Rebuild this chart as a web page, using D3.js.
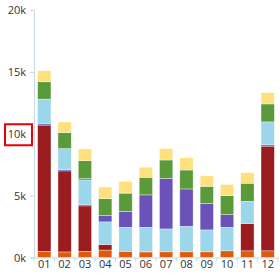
<!DOCTYPE html>
<html>
<head>
<meta charset="utf-8">
<script src="https://cdnjs.cloudflare.com/ajax/libs/d3/7.8.5/d3.min.js"></script>
<style>
body { margin: 0; background: #fff; }
svg { display: block; }
</style>
</head>
<body>
<div id="chart"></div>
<script>
var months = ["01","02","03","04","05","06","07","08","09","10","11","12"];
var orange    = [500, 450, 500, 600, 500, 450, 460, 460, 460, 540, 540, 540];
var darkRed   = [10200, 6550, 3670, 450, 0, 50, 0, 0, 0, 0, 2200, 8460];
var blue      = [100, 100, 100, 0, 0, 0, 0, 0, 0, 0, 0, 100];
var lightBlue = [2000, 1700, 2000, 1830, 1940, 1940, 1850, 2060, 1770, 1900, 1800, 1860];
var purple    = [0, 0, 100, 500, 1290, 2620, 4090, 3020, 2150, 1030, 0, 0];
var green     = [1400, 1300, 1450, 1370, 1470, 1420, 1480, 1530, 1370, 1530, 1460, 1450];
var yellow    = [900, 850, 950, 940, 950, 820, 920, 990, 850, 900, 850, 910];
var yTicks = [0, 5000, 10000, 15000, 20000];

var series = [
  {name: "orange", values: orange, color: "#e05a0c"},
  {name: "darkRed", values: darkRed, color: "#9a1c1f"},
  {name: "blue", values: blue, color: "#3f4cc0"},
  {name: "lightBlue", values: lightBlue, color: "#9bd6ea"},
  {name: "purple", values: purple, color: "#6a52b8"},
  {name: "green", values: green, color: "#5a9a3a"},
  {name: "yellow", values: yellow, color: "#ffe07e"}
];

var w = 280, h = 275;
var svg = d3.select("#chart").append("svg")
    .attr("width", w)
    .attr("height", h);

var x = d3.scaleBand()
    .domain(months)
    .range([34, 278])
    .paddingInner(0.345)
    .paddingOuter(0.18);

var y = d3.scaleLinear()
    .domain([0, 20000])
    .range([257.5, 10]);

// stack the series
var table = months.map(function(m, i) {
  var row = {month: m};
  series.forEach(function(s) { row[s.name] = s.values[i]; });
  return row;
});
var stack = d3.stack().keys(series.map(function(s) { return s.name; }));
var layers = stack(table);

svg.selectAll("g.layer")
   .data(layers)
   .enter()
   .append("g")
   .attr("class", "layer")
   .attr("fill", function(d, i) { return series[i].color; })
   .selectAll("rect")
   .data(function(d) { return d; })
   .enter()
   .append("rect")
   .filter(function(d) { return d[1] - d[0] > 0; })
   .attr("x", function(d) { return x(d.data.month); })
   .attr("y", function(d) { return y(d[1]); })
   .attr("width", x.bandwidth())
   .attr("height", function(d) { return y(d[0]) - y(d[1]); })
   .attr("stroke", "#fff")
   .attr("stroke-opacity", 0.6)
   .attr("stroke-width", 0.6);

// y axis
var yAxis = svg.append("g")
    .attr("transform", "translate(34,0)")
    .call(d3.axisLeft(y)
      .tickValues(yTicks)
      .tickSize(4)
      .tickPadding(4)
      .tickFormat(function(d) { return (d / 1000) + "k"; }));
yAxis.select(".domain").attr("stroke", "#c9d9e8");
yAxis.selectAll(".tick line").attr("stroke", "#c9d9e8");
yAxis.selectAll("text")
    .attr("font-family", "Open Sans, sans-serif")
    .attr("font-size", "11px")
    .attr("fill", "#333");

// x axis
var step = x.step();
var xAxis = svg.append("g")
    .attr("transform", "translate(0,257.5)")
    .call(d3.axisBottom(x).tickSize(0).tickPadding(3));
xAxis.select(".domain").attr("stroke", "#c9d9e8");
xAxis.selectAll("text")
    .attr("font-family", "Open Sans, sans-serif")
    .attr("font-size", "11px")
    .attr("fill", "#333");
var bounds = months.map(function(m) { return x(m) - step * x.paddingInner() / 2; });
bounds.push(x(months[months.length - 1]) + x.bandwidth() + step * x.paddingInner() / 2);
xAxis.selectAll("line.sep")
    .data(bounds)
    .enter()
    .append("line")
    .attr("class", "sep")
    .attr("x1", function(d) { return d; })
    .attr("x2", function(d) { return d; })
    .attr("y1", 0)
    .attr("y2", 4)
    .attr("stroke", "#c9d9e8");

// highlight box round the 10k label
var lab = y(10000);
svg.append("rect")
    .attr("x", 5)
    .attr("y", lab - 9.5)
    .attr("width", 27)
    .attr("height", 21)
    .attr("fill", "none")
    .attr("stroke", "#e8000b")
    .attr("stroke-width", 2);
</script>
</body>
</html>
